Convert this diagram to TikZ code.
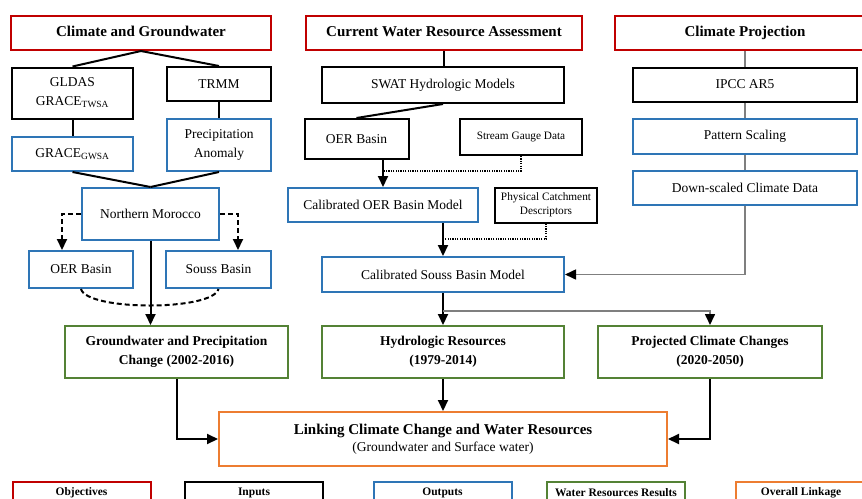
\documentclass[tikz,border=0pt]{standalone}
\usepackage{fontspec}
\setmainfont{Liberation Serif}
\usetikzlibrary{arrows.meta}
\definecolor{objred}{HTML}{C00000}
\definecolor{outblue}{HTML}{2E75B6}
\definecolor{resgreen}{HTML}{548235}
\definecolor{linkorange}{HTML}{ED7D31}
\definecolor{linegray}{HTML}{7F7F7F}
\tikzset{
  basebox/.style={draw, line width=2pt, inner sep=2pt, align=center, fill=white},
  objbox/.style={basebox, draw=objred, font=\fontsize{15}{17}\selectfont\bfseries},
  inbox/.style={basebox, draw=black, font=\fontsize{13.5}{19}\selectfont},
  smallin/.style={basebox, draw=black, font=\fontsize{11.3}{15}\selectfont},
  outbox/.style={basebox, draw=outblue, font=\fontsize{13.5}{19}\selectfont},
  resbox/.style={basebox, draw=resgreen, font=\fontsize{13.5}{19}\selectfont\bfseries},
  linkbox/.style={basebox, draw=linkorange},
  legbox/.style={draw, line width=2pt, inner sep=1pt, minimum width=138pt, minimum height=22pt, font=\fontsize{11.5}{13}\selectfont\bfseries},
  conn/.style={line width=2pt, draw=black},
  gconn/.style={line width=1.6pt, draw=linegray},
  arr/.style={-{Triangle[length=11pt,width=10pt]}},
  garr/.style={-{Triangle[length=11pt,width=10pt,fill=black,color=black]}},
  dashconn/.style={conn, dash pattern=on 5pt off 3pt},
  dotconn/.style={line width=1.8pt, draw=black, dash pattern=on 1.2pt off 1.2pt},
}
\begin{document}
\begin{tikzpicture}[x=1pt,y=-1pt]
\useasboundingbox (0,0) rectangle (862,498);
\clip (0,0) rectangle (862,498);
\fill[white] (0,0) rectangle (862,498);

% headings
\node[objbox, minimum width=260pt, minimum height=34pt] (cg) at (141,33) {\strut Climate and Groundwater};
\node[objbox, minimum width=276pt, minimum height=34pt] (cwra) at (444,33) {\strut Current Water Resource Assessment};
\node[objbox, minimum width=260pt, minimum height=34pt] (cp) at (745,33) {\strut Climate Projection};

% left column
\node[inbox, minimum width=121pt, minimum height=51pt] (gldas) at (72.5,93) {GLDAS\\GRACE\textsubscript{TWSA}};
\node[inbox, minimum width=104pt, minimum height=34pt] (trmm) at (219,84) {TRMM};
\node[outbox, minimum width=121pt, minimum height=34pt] (gracegw) at (72.5,154) {GRACE\textsubscript{GWSA}};
\node[outbox, minimum width=104pt, minimum height=52pt] (precip) at (219,145) {Precipitation\\Anomaly};
\node[outbox, minimum width=137pt, minimum height=52pt] (nm) at (150.5,214) {Northern Morocco};
\node[outbox, minimum width=104pt, minimum height=37pt] (oerL) at (81,269.5) {OER Basin};
\node[outbox, minimum width=105pt, minimum height=37pt] (souss) at (218.5,269.5) {Souss Basin};
\node[resbox, minimum width=223pt, minimum height=52pt] (gpc) at (176.5,352) {Groundwater and Precipitation\\Change (2002-2016)};

% middle column
\node[inbox, minimum width=242pt, minimum height=36pt] (swat) at (443,85) {SWAT Hydrologic Models};
\node[inbox, minimum width=104pt, minimum height=40pt] (oerM) at (356.5,139) {OER Basin};
\node[smallin, minimum width=122pt, minimum height=36pt] (sgd) at (521,137) {Stream Gauge Data};
\node[smallin, minimum width=102pt, minimum height=35pt, font=\fontsize{11.3}{13.5}\selectfont] (pcd) at (546,205) {Physical Catchment\\Descriptors};
\node[outbox, minimum width=190pt, minimum height=34pt] (coer) at (383,205) {Calibrated OER Basin Model};
\node[outbox, minimum width=242pt, minimum height=35pt] (csouss) at (443,274.5) {Calibrated Souss Basin Model};
\node[resbox, minimum width=242pt, minimum height=52pt] (hr) at (443,352) {Hydrologic Resources\\(1979-2014)};

% right column
\node[inbox, minimum width=224pt, minimum height=34pt] (ipcc) at (745,84.5) {IPCC AR5};
\node[outbox, minimum width=224pt, minimum height=35pt] (ps) at (745,136.5) {Pattern Scaling};
\node[outbox, minimum width=224pt, minimum height=34pt] (dcd) at (745,188) {Down-scaled Climate Data};
\node[resbox, minimum width=224pt, minimum height=52pt] (pcc) at (710,352) {Projected Climate Changes\\(2020-2050)};

% linkage
\node[linkbox, minimum width=448pt, minimum height=54pt] (link) at (443,439)
  {{\fontsize{15}{18}\selectfont\bfseries Linking Climate Change and Water Resources}\\[3pt]
   {\fontsize{13.5}{16}\selectfont (Groundwater and Surface water)}};

% legend
\node[legbox, draw=objred] (l1) at (81.5,493) {Objectives};
\node[legbox, draw=black] (l2) at (254,493) {Inputs};
\node[legbox, draw=outblue] (l3) at (442.5,493) {Outputs};
\node[legbox, draw=resgreen] (l4) at (616,493) {Water Resources Results};
\node[legbox, draw=linkorange, minimum width=130pt] (l5) at (801,493) {Overall Linkage};

% ---------- connectors ----------
\draw[conn] (cg.south) -- (gldas.north);
\draw[conn] (cg.south) -- (trmm.north);
\draw[conn] (gldas.south) -- (gracegw.north);
\draw[conn] (trmm.south) -- (precip.north);
\draw[conn] (gracegw.south) -- (nm.north);
\draw[conn] (precip.south) -- (nm.north);
\draw[dashconn, arr] (nm.west) -| ([xshift=34pt]oerL.north west);
\draw[dashconn, arr] (nm.east) -| ([xshift=-34pt]souss.north east);
\draw[dashconn] (oerL.south) .. controls +(6,22) and +(-6,22) .. (souss.south);
\draw[conn, arr] (nm.south) -- (nm.south |- gpc.north);

\draw[conn] (cwra.south) -- (cwra.south |- swat.north);
\draw[conn] (swat.south) -- (oerM.north);
\draw[dotconn] (sgd.south) |- ([yshift=16pt]coer.north);
\draw[conn, arr] (coer.north |- oerM.south) -- (coer.north);
\draw[dotconn] (pcd.south) |- ([yshift=17pt]csouss.north);
\draw[conn, arr] (csouss.north |- coer.south) -- (csouss.north);
\draw[conn, arr] (csouss.south) -- (hr.north);
\draw[gconn, garr] ([yshift=-18pt]csouss.south) -| (pcc.north);

\draw[gconn] (cp.south) -- (ipcc.north);
\draw[gconn] (ipcc.south) -- (ps.north);
\draw[gconn] (ps.south) -- (dcd.north);
\draw[gconn, garr] (dcd.south) |- (csouss.east);

\draw[conn, arr] (gpc.south) |- (link.west);
\draw[conn, arr] (hr.south) -- (link.north);
\draw[conn, arr] (pcc.south) |- (link.east);
\end{tikzpicture}
\end{document}
